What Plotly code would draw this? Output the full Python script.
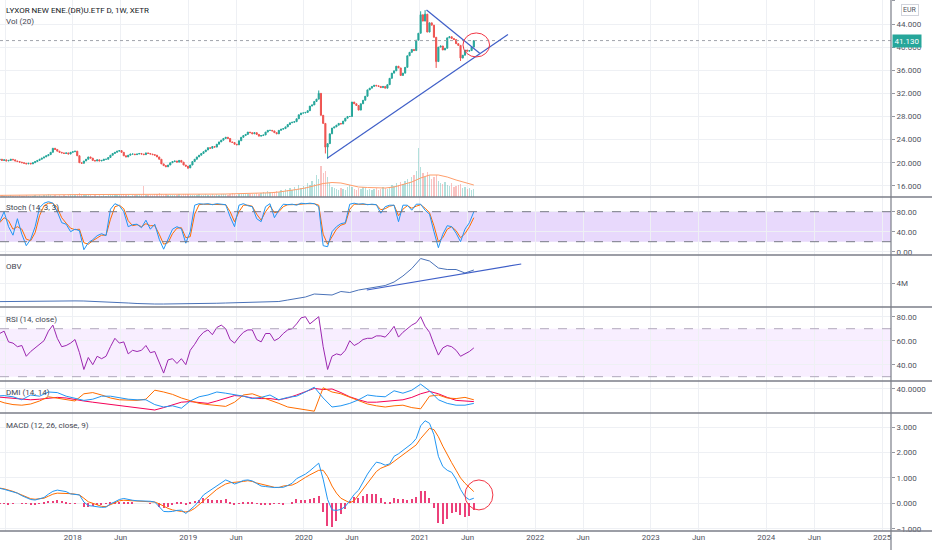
import pandas as pd
import plotly.graph_objects as go

# weekly bars, LYXOR New Energy ETF (XETR)
start = pd.Timestamp("2017-05-01")
weeks = pd.date_range(start, periods=217, freq="7D")
weeks2 = pd.date_range(start, periods=109, freq="14D")   # indicators read every 2 weeks
weeks4 = pd.date_range(start, periods=55, freq="28D")    # smooth ones every 4 weeks

close = [
    20.7, 20.5, 20.6, 20.4, 20.5, 20.3, 20.4, 20.6, 20.5, 20.3,
    20.2, 20.1, 20.0, 19.9, 19.8, 19.9, 19.8, 20.0, 20.2, 20.4,
    20.6, 20.8, 21.0, 21.2, 21.4, 21.8, 22.5, 22.3, 22.0, 21.8,
    21.7, 21.6, 21.7, 21.5, 21.8, 21.9, 22.0, 21.2, 20.0, 19.9,
    20.3, 20.6, 21.0, 20.8, 20.4, 20.3, 20.5, 20.3, 20.4, 20.6,
    20.6, 20.9, 21.3, 21.6, 21.8, 22.0, 22.1, 21.8, 21.2, 21.0,
    21.3, 21.5, 21.5, 21.4, 21.5, 21.6, 21.5, 21.4, 21.7, 21.6,
    21.5, 21.4, 21.3, 21.0, 20.6, 19.8, 19.5, 19.3, 19.6, 20.0,
    20.2, 20.3, 20.1, 20.4, 20.1, 19.6, 19.4, 19.1, 19.6, 20.2,
    20.6, 21.0, 21.3, 21.6, 21.9, 22.2, 22.6, 22.5, 22.8, 22.7,
    23.2, 23.6, 23.9, 24.2, 24.4, 24.2, 23.6, 23.5, 23.2, 23.1,
    23.8, 24.4, 24.7, 24.9, 25.3, 25.2, 25.0, 25.2, 24.9, 24.6,
    24.7, 24.8, 25.3, 25.6, 25.6, 25.5, 25.2, 25.0, 25.6, 25.8,
    25.9, 26.2, 26.6, 26.9, 27.0, 27.1, 27.6, 28.3, 28.6, 28.6,
    28.7, 29.0, 29.8, 30.0, 30.6, 31.0, 32.0, 28.2, 26.8, 22.7,
    23.3, 25.0, 26.0, 26.2, 26.5, 26.8, 26.7, 27.2, 27.7, 28.0,
    28.0, 30.5, 30.2, 29.9, 29.1, 30.2, 30.8, 31.5, 32.6, 32.9,
    33.2, 33.4, 33.3, 33.2, 33.0, 33.2, 32.9, 33.5, 34.6, 35.5,
    35.9, 36.7, 36.4, 35.1, 35.5, 36.5, 38.5, 39.1, 39.6, 39.4,
    41.2, 42.4, 45.6, 44.5, 45.7, 42.6, 44.2, 43.8, 41.7, 37.5,
    40.0, 40.2, 39.5, 39.8, 41.6, 41.8, 41.5, 41.3, 40.6, 40.3,
    38.1, 38.6, 39.5, 39.3, 39.4, 40.0, 41.13,
]
first_open = 20.8
wick_high = {146: 32.5, 192: 46.2, 194: 46.4}
wick_low = {87: 18.9, 149: 21.6, 150: 20.7, 199: 36.4, 210: 37.6}

# volume in thousands (hidden scale)
volume = [
    1.5, 1, 1.5, 2, 1, 1.5, 1, 2, 1.5, 1,
    1.5, 2, 1, 1.5, 2, 1, 1.5, 1, 2, 1.5,
    2, 1.5, 2.5, 2, 3, 2, 1.5, 2, 1.5, 2,
    1.5, 2, 1.5, 2, 3, 2, 2.5, 3, 4, 3,
    2.5, 2, 3, 2, 1.5, 2, 1.5, 2, 1.5, 2,
    1.5, 2, 2.5, 2, 3, 2, 2.5, 2, 3, 2,
    2, 1.5, 2, 2.5, 2, 3, 2, 11, 2.5, 2,
    2, 2.5, 3, 3.5, 4, 3, 2.5, 3, 2, 2.5,
    2, 2.5, 2, 3, 2.5, 3, 3.5, 3, 2.5, 2,
    2.5, 2, 3, 2.5, 2, 3, 2.5, 2, 3, 2.5,
    3, 2.5, 3, 3.5, 3, 2.5, 3, 4, 3, 2.5,
    3, 3.5, 3, 4, 3.5, 3, 3.5, 3, 4, 3.5,
    4, 5, 4, 6, 5, 4, 5, 6, 5, 7,
    6, 8, 7, 9, 7, 10, 8, 12, 9, 11,
    10, 14, 12, 16, 13, 22, 18, 31, 24, 26,
    20, 14, 10, 9, 8, 7, 9, 8, 7, 10,
    12, 10, 8, 7, 9, 8, 10, 9, 7, 8,
    7, 8, 9, 7, 8, 10, 9, 8, 10, 12,
    11, 14, 12, 15, 13, 16, 18, 15, 20, 22,
    26, 49, 30, 24, 20, 25, 22, 18, 20, 22,
    16, 14, 13, 15, 12, 11, 14, 10, 11, 12,
    13, 9, 10, 8, 9, 7, 8,
]
vol_ma = [
    1.6, 1.6, 1.6, 1.7, 1.8, 1.9, 2.0, 2.1, 2.3, 2.4,
    2.4, 2.3, 2.2, 2.2, 2.3, 2.3, 2.4, 2.6, 2.8, 2.9,
    2.8, 2.6, 2.6, 2.6, 2.7, 2.9, 3.0, 3.1, 3.2, 3.3,
    3.6, 4.2, 5.0, 6.0, 7.5, 9.0, 11.0, 13.5, 14.5, 14.0,
    12.0, 10.0, 9.5, 9.0, 9.0, 10.0, 12.5, 15.0, 19.0, 22.0,
    22.0, 20.0, 17.0, 14.5, 12.0,
]

stoch_k = [
    55, 60, 80, 50, 33, 66, 35, 12, 25, 50,
    88, 97, 100, 97, 80, 58, 55, 40, 45, 42,
    4, 18, 24, 32, 36, 32, 85, 96, 92, 80,
    50, 54, 55, 48, 63, 45, 55, 25, 5, 25,
    45, 50, 46, 17, 40, 93, 96, 95, 96, 94,
    96, 95, 94, 70, 50, 93, 96, 92, 90, 66,
    60, 90, 96, 68, 83, 95, 94, 95, 93, 97,
    96, 97, 96, 90, 12, 10, 40, 50, 56, 58,
    95, 97, 95, 96, 94, 95, 94, 77, 90, 93,
    93, 60, 93, 93, 83, 95, 95, 83, 75, 40,
    8, 35, 52, 50, 37, 20, 45, 58, 80,
]
stoch_d = [
    55, 58, 68, 62, 45, 50, 45, 25, 22, 38,
    72, 92, 97, 97, 88, 68, 57, 47, 44, 45,
    18, 15, 22, 28, 33, 33, 65, 90, 93, 86,
    62, 52, 54, 50, 56, 52, 52, 35, 15, 18,
    36, 47, 48, 28, 30, 75, 94, 95, 95, 95,
    95, 95, 94, 80, 60, 80, 93, 93, 91, 75,
    63, 80, 92, 78, 80, 90, 94, 94, 94, 95,
    96, 96, 96, 93, 35, 15, 30, 45, 53, 56,
    85, 95, 95, 95, 95, 95, 94, 84, 86, 91,
    93, 72, 85, 92, 87, 91, 94, 87, 78, 52,
    20, 28, 45, 50, 42, 28, 36, 50, 68,
]

# OBV in millions
obv = [
    0.27, 0.3, 0.3, 0.33, 0.35, 0.37, 0.38, 0.4, 0.4, 0.42,
    0.4, 0.35, 0.3, 0.2, 0.1, 0.0, -0.1, -0.2, -0.2, -0.2,
    -0.2, -0.2, -0.2, -0.15, -0.1, -0.05, 0.0, 0.05, 0.1, 0.1,
    0.1, 0.2, 0.3, 0.6, 0.9, 1.2, 1.8, 1.7, 1.6, 2.3,
    2.1, 2.6, 2.9, 3.1, 3.5, 4.2, 5.4, 6.9, 8.9, 8.4,
    7.0, 6.7, 6.7, 6.0, 6.6,
]

rsi = [
    65, 66, 68, 59, 58, 55, 56, 47, 51, 54,
    57, 60, 68, 73, 62, 55, 56, 58, 61, 50,
    36, 46, 40, 47, 45, 47, 55, 62, 58, 59,
    49, 52, 51, 52, 56, 50, 51, 42, 33, 44,
    45, 41, 45, 40, 52, 57, 63, 67, 69, 65,
    71, 73, 70, 61, 58, 63, 67, 69, 69, 61,
    59, 66, 66, 60, 62, 66, 69, 70, 74, 79,
    80, 74, 77, 80, 55, 36, 47, 49, 48, 52,
    60, 56, 58, 61, 62, 62, 64, 64, 63, 67,
    72, 63, 67, 70, 73, 75, 80, 72, 67, 57,
    48, 54, 56, 55, 52, 47, 49, 51, 54,
]

plus_di = [
    28, 29, 27, 22, 30, 28, 35, 34, 28, 24,
    21, 23, 28, 28, 25, 23, 22, 22, 14, 10,
    12, 8, 20, 27, 30, 35, 33, 31, 28, 24,
    26, 30, 22, 26, 28, 35, 43, 25, 10, 12,
    16, 22, 30, 28, 27, 37, 33, 38, 48, 37,
    22, 16, 13, 13, 16,
]
minus_di = [
    22, 17, 14, 13, 15, 20, 27, 25, 22, 20,
    32, 34, 30, 25, 22, 21, 21, 23, 38, 35,
    31, 25, 20, 16, 14, 13, 11, 18, 30, 32,
    27, 22, 16, 10, 8, 5, 3, 42, 35, 32,
    26, 20, 15, 12, 10, 12, 13, 9, 7, 28,
    30, 25, 24, 26, 22,
]
adx = [
    27, 26, 25, 24, 22, 23, 25, 26, 25, 22,
    20, 18, 16, 15, 13, 11, 8, 6, 5, 9,
    13, 18, 19, 17, 16, 20, 25, 29, 28, 25,
    24, 24, 22, 25, 30, 35, 41, 39, 40, 34,
    27, 22, 18, 18, 19, 21, 22, 26, 32, 36,
    32, 26, 21, 20, 19,
]

macd = [
    0.60, 0.59, 0.55, 0.50, 0.46, 0.40, 0.30, 0.22, 0.15, 0.13,
    0.18, 0.23, 0.36, 0.47, 0.52, 0.50, 0.46, 0.37, 0.35, 0.33,
    0.05, -0.09, -0.11, -0.13, -0.16, -0.15, -0.02, 0.06, 0.15, 0.19,
    0.14, 0.12, 0.10, 0.10, 0.09, 0.08, 0.05, -0.15, -0.32, -0.33,
    -0.32, -0.28, -0.27, -0.40, -0.25, -0.10, 0.10, 0.33, 0.45, 0.56,
    0.68, 0.80, 0.92, 0.85, 0.76, 0.82, 0.90, 0.92, 0.88, 0.78,
    0.68, 0.66, 0.63, 0.62, 0.63, 0.63, 0.70, 0.79, 0.97, 1.05,
    1.15, 1.28, 1.42, 1.58, 0.95, 0.15, -0.26, -0.28, -0.24, -0.12,
    0.10, 0.35, 0.52, 0.85, 1.15, 1.40, 1.62, 1.58, 1.50, 1.55,
    1.85, 1.95, 2.08, 2.20, 2.35, 2.55, 3.05, 3.25, 3.15, 2.70,
    1.85, 1.45, 1.30, 1.22, 0.95, 0.55, 0.26, 0.14, 0.20,
]
signal = [
    0.60, 0.60, 0.57, 0.53, 0.47, 0.40, 0.32, 0.24, 0.18, 0.16,
    0.17, 0.20, 0.28, 0.36, 0.40, 0.40, 0.39, 0.38, 0.36, 0.33,
    0.20, 0.06, 0.00, -0.05, -0.12, -0.13, -0.05, 0.04, 0.10, 0.12,
    0.11, 0.10, 0.10, 0.10, 0.09, 0.07, 0.05, -0.02, -0.12, -0.20,
    -0.26, -0.30, -0.32, -0.34, -0.30, -0.20, -0.05, 0.12, 0.28, 0.42,
    0.55, 0.66, 0.76, 0.81, 0.82, 0.83, 0.86, 0.89, 0.86, 0.80,
    0.76, 0.70, 0.66, 0.63, 0.62, 0.68, 0.70, 0.72, 0.80, 0.92,
    1.02, 1.12, 1.22, 1.30, 1.30, 1.05, 0.68, 0.40, 0.20, 0.10,
    0.02, 0.10, 0.33, 0.55, 0.80, 1.05, 1.25, 1.38, 1.44, 1.52,
    1.65, 1.78, 1.90, 2.05, 2.18, 2.30, 2.55, 2.75, 2.95, 2.90,
    2.62, 2.25, 1.90, 1.60, 1.30, 1.00, 0.79, 0.62, 0.46,
]

# hand drawn lines on the chart: (weeks after start, value)
price_support = [(149.8, 20.77), (231.4, 42.2)]
price_resist = [(194.65, 46.42), (218.65, 38.93)]
price_circle = [(211.1, 38.3), (223.1, 42.45)]
obv_support = [(167.7, 2.6), (237.4, 7.8)]
macd_circle = [(212.0, -0.26), (224.6, 0.92)]

x_ticks = ["2017-06-01", "2018-01-01", "2018-06-01", "2019-01-01", "2019-06-01",
           "2020-01-01", "2020-06-01", "2021-01-01", "2021-06-01", "2022-01-01",
           "2022-06-01", "2023-01-01", "2023-06-01", "2024-01-01", "2024-06-01",
           "2025-01-01"]
x_labels = ["Jun", "2018", "Jun", "2019", "Jun", "2020", "Jun", "2021", "Jun",
            "2022", "Jun", "2023", "Jun", "2024", "Jun", "2025"]


def wk(w):
    return start + pd.Timedelta(weeks=w)


opens = [first_open] + close[:-1]
highs = [wick_high.get(i, max(o, c)) for i, (o, c) in enumerate(zip(opens, close))]
lows = [wick_low.get(i, min(o, c)) for i, (o, c) in enumerate(zip(opens, close))]
vol_colors = ["rgba(38,166,154,0.35)" if c >= o else "rgba(239,83,80,0.35)"
              for o, c in zip(opens, close)]
hist = [m - s for m, s in zip(macd, signal)]

H = 531.0  # plot height in px


def py(ypx):
    return 1 - ypx / H


GREEN, RED = "#26a69a", "#ef5350"
BLUE, ORANGE = "#2196f3", "#ff6d00"
GRID = "#eef0f4"

fig = go.Figure()
fig.add_trace(go.Bar(x=weeks, y=volume, yaxis="y2", marker_color=vol_colors,
                     marker_line_width=0, width=7 * 86400000 * 0.6))
fig.add_trace(go.Scatter(x=weeks4, y=vol_ma, yaxis="y2", mode="lines",
                         line=dict(color="#ff9e6b", width=1)))
fig.add_trace(go.Candlestick(x=weeks, open=opens, high=highs, low=lows, close=close,
                             increasing=dict(line=dict(color=GREEN, width=1), fillcolor=GREEN),
                             decreasing=dict(line=dict(color=RED, width=1), fillcolor=RED),
                             whiskerwidth=0))
fig.add_trace(go.Scatter(x=weeks2, y=stoch_d, yaxis="y3", mode="lines",
                         line=dict(color=ORANGE, width=1)))
fig.add_trace(go.Scatter(x=weeks2, y=stoch_k, yaxis="y3", mode="lines",
                         line=dict(color=BLUE, width=1)))
fig.add_trace(go.Scatter(x=weeks4, y=obv, yaxis="y4", mode="lines",
                         line=dict(color="#4a72b8", width=1)))
fig.add_trace(go.Scatter(x=weeks2, y=rsi, yaxis="y5", mode="lines",
                         line=dict(color="#9c27b0", width=1)))
fig.add_trace(go.Scatter(x=weeks4, y=adx, yaxis="y6", mode="lines",
                         line=dict(color="#f50057", width=1)))
fig.add_trace(go.Scatter(x=weeks4, y=minus_di, yaxis="y6", mode="lines",
                         line=dict(color=ORANGE, width=1)))
fig.add_trace(go.Scatter(x=weeks4, y=plus_di, yaxis="y6", mode="lines",
                         line=dict(color=BLUE, width=1)))
fig.add_trace(go.Bar(x=weeks2, y=hist, yaxis="y7", marker_color="#ec407a",
                     marker_line_width=0, width=4 * 86400000))
fig.add_trace(go.Scatter(x=weeks2, y=signal, yaxis="y7", mode="lines",
                         line=dict(color=ORANGE, width=1)))
fig.add_trace(go.Scatter(x=weeks2, y=macd, yaxis="y7", mode="lines",
                         line=dict(color=BLUE, width=1)))


def yax(top, bottom, rng, **kw):
    d = dict(domain=[py(bottom), py(top)], range=rng, side="right", anchor="x",
             showgrid=True, gridcolor=GRID, zeroline=False, ticks="outside",
             ticklen=3, tickcolor="#9598a1", fixedrange=True, automargin=False,
             tickfont=dict(size=8, color="#50535e"))
    d.update(kw)
    return d


price_top = 44 + 24 / 5.78
price_bot = 44 - (197 - 24) / 5.78

shapes = []
# bands
shapes.append(dict(type="rect", xref="paper", yref="y3", x0=0, x1=1, y0=20, y1=80,
                   fillcolor="rgba(150,80,240,0.22)", line_width=0, layer="below"))
shapes.append(dict(type="rect", xref="paper", yref="y5", x0=0, x1=1, y0=30, y1=70,
                   fillcolor="rgba(190,100,255,0.11)", line_width=0, layer="below"))
for v in (20, 80):
    shapes.append(dict(type="line", xref="paper", yref="y3", x0=0, x1=1, y0=v, y1=v,
                       line=dict(color="#787b86", width=1, dash="dash")))
for v in (30, 70):
    shapes.append(dict(type="line", xref="paper", yref="y5", x0=0, x1=1, y0=v, y1=v,
                       line=dict(color="#b0a8bc", width=1, dash="dash")))
# last price line
shapes.append(dict(type="line", xref="paper", yref="y", x0=0, x1=1, y0=close[-1], y1=close[-1],
                   line=dict(color="#a0a3ab", width=1, dash="dot")))
# pane separators and axis lines
full = 932 / 891
for ypx in (197, 255, 307, 381, 413, 531):
    shapes.append(dict(type="line", xref="paper", yref="paper", x0=0, x1=full,
                       y0=py(ypx), y1=py(ypx), line=dict(color="#7b7e88", width=1.5)))
shapes.append(dict(type="line", xref="paper", yref="paper", x0=1, x1=1, y0=py(550), y1=1,
                   line=dict(color="#7b7e88", width=1.2)))
# drawings
for (w0, v0), (w1, v1) in (price_support, price_resist):
    shapes.append(dict(type="line", xref="x", yref="y", x0=wk(w0), x1=wk(w1), y0=v0, y1=v1,
                       line=dict(color="#3f5fc8", width=1.2)))
(w0, v0), (w1, v1) = obv_support
shapes.append(dict(type="line", xref="x", yref="y4", x0=wk(w0), x1=wk(w1), y0=v0, y1=v1,
                   line=dict(color="#3f5fc8", width=1.2)))
(w0, v0), (w1, v1) = price_circle
shapes.append(dict(type="circle", xref="x", yref="y", x0=wk(w0), x1=wk(w1), y0=v0, y1=v1,
                   line=dict(color="#f23645", width=1)))
(w0, v0), (w1, v1) = macd_circle
shapes.append(dict(type="circle", xref="x", yref="y7", x0=wk(w0), x1=wk(w1), y0=v0, y1=v1,
                   line=dict(color="#f23645", width=1)))

labels = [
    ("LYXOR NEW ENE.(DR)U.ETF D, 1W, XETR", 11, "#131722"),
    ("Vol (20)", 22, "#434651"),
    ("Stoch (14, 3, 3)", 207, "#434651"),
    ("OBV", 266, "#434651"),
    ("RSI (14, close)", 319, "#434651"),
    ("DMI (14, 14)", 392, "#434651"),
    ("MACD (12, 26, close, 9)", 425, "#434651"),
]
annotations = [dict(text=t, xref="paper", yref="paper", x=0.005, y=py(ypx), xanchor="left",
                    yanchor="middle", showarrow=False, font=dict(size=8, color=c))
               for t, ypx, c in labels]
annotations.append(dict(text="%.3f" % close[-1], xref="paper", yref="y", x=1.001, y=close[-1],
                        xanchor="left", yanchor="middle", showarrow=False, bgcolor=GREEN,
                        font=dict(size=8, color="#ffffff"), borderpad=1.5))
annotations.append(dict(text="EUR", xref="paper", yref="paper", x=910 / 891, y=py(10),
                        xanchor="center", yanchor="middle", showarrow=False,
                        bgcolor="#ffffff", bordercolor="#d1d4dc", borderwidth=1, borderpad=1,
                        font=dict(size=7, color="#50535e")))

fig.update_layout(
    width=932, height=550,
    margin=dict(l=0, r=41, t=0, b=19, autoexpand=False),
    paper_bgcolor="#ffffff", plot_bgcolor="#ffffff",
    font=dict(family="Roboto, Open Sans, sans-serif"),
    showlegend=False, bargap=0,
    xaxis=dict(type="date", range=["2017-05-16", "2025-01-29"], anchor="y7",
               tickvals=x_ticks, ticktext=x_labels, showgrid=True, gridcolor=GRID,
               ticks="", ticklabelstandoff=0, zeroline=False, automargin=False,
               rangeslider=dict(visible=False), fixedrange=True,
               tickfont=dict(size=8, color="#50535e")),
    yaxis=yax(0, 197, [price_bot, price_top], tickvals=list(range(16, 49, 4)),
              tickformat=".3f"),
    yaxis2=dict(domain=[py(197), 1], range=[0, 197], overlaying="y", visible=False,
                fixedrange=True),
    yaxis3=yax(197, 255, [-6.6, 109.4], tickvals=[0, 40, 80], tickformat=".2f"),
    yaxis4=yax(255, 307, [-0.8, 9.6], tickvals=[4], ticktext=["4M"]),
    yaxis5=yax(307, 381, [26.4, 88.1], tickvals=[40, 60, 80], tickformat=".2f"),
    yaxis6=yax(381, 413, [0, 53.3], tickvals=[40], tickformat=".4f"),
    yaxis7=yax(413, 531, [-1.09, 3.555], tickvals=[-1, 0, 1, 2, 3], tickformat=".3f"),
    shapes=shapes,
    annotations=annotations,
)

# the page's default body margin would shift the whole chart by 8px
fig.write_html("out.html", config={"displayModeBar": False},
               post_script="document.body.style.margin='0px';")
